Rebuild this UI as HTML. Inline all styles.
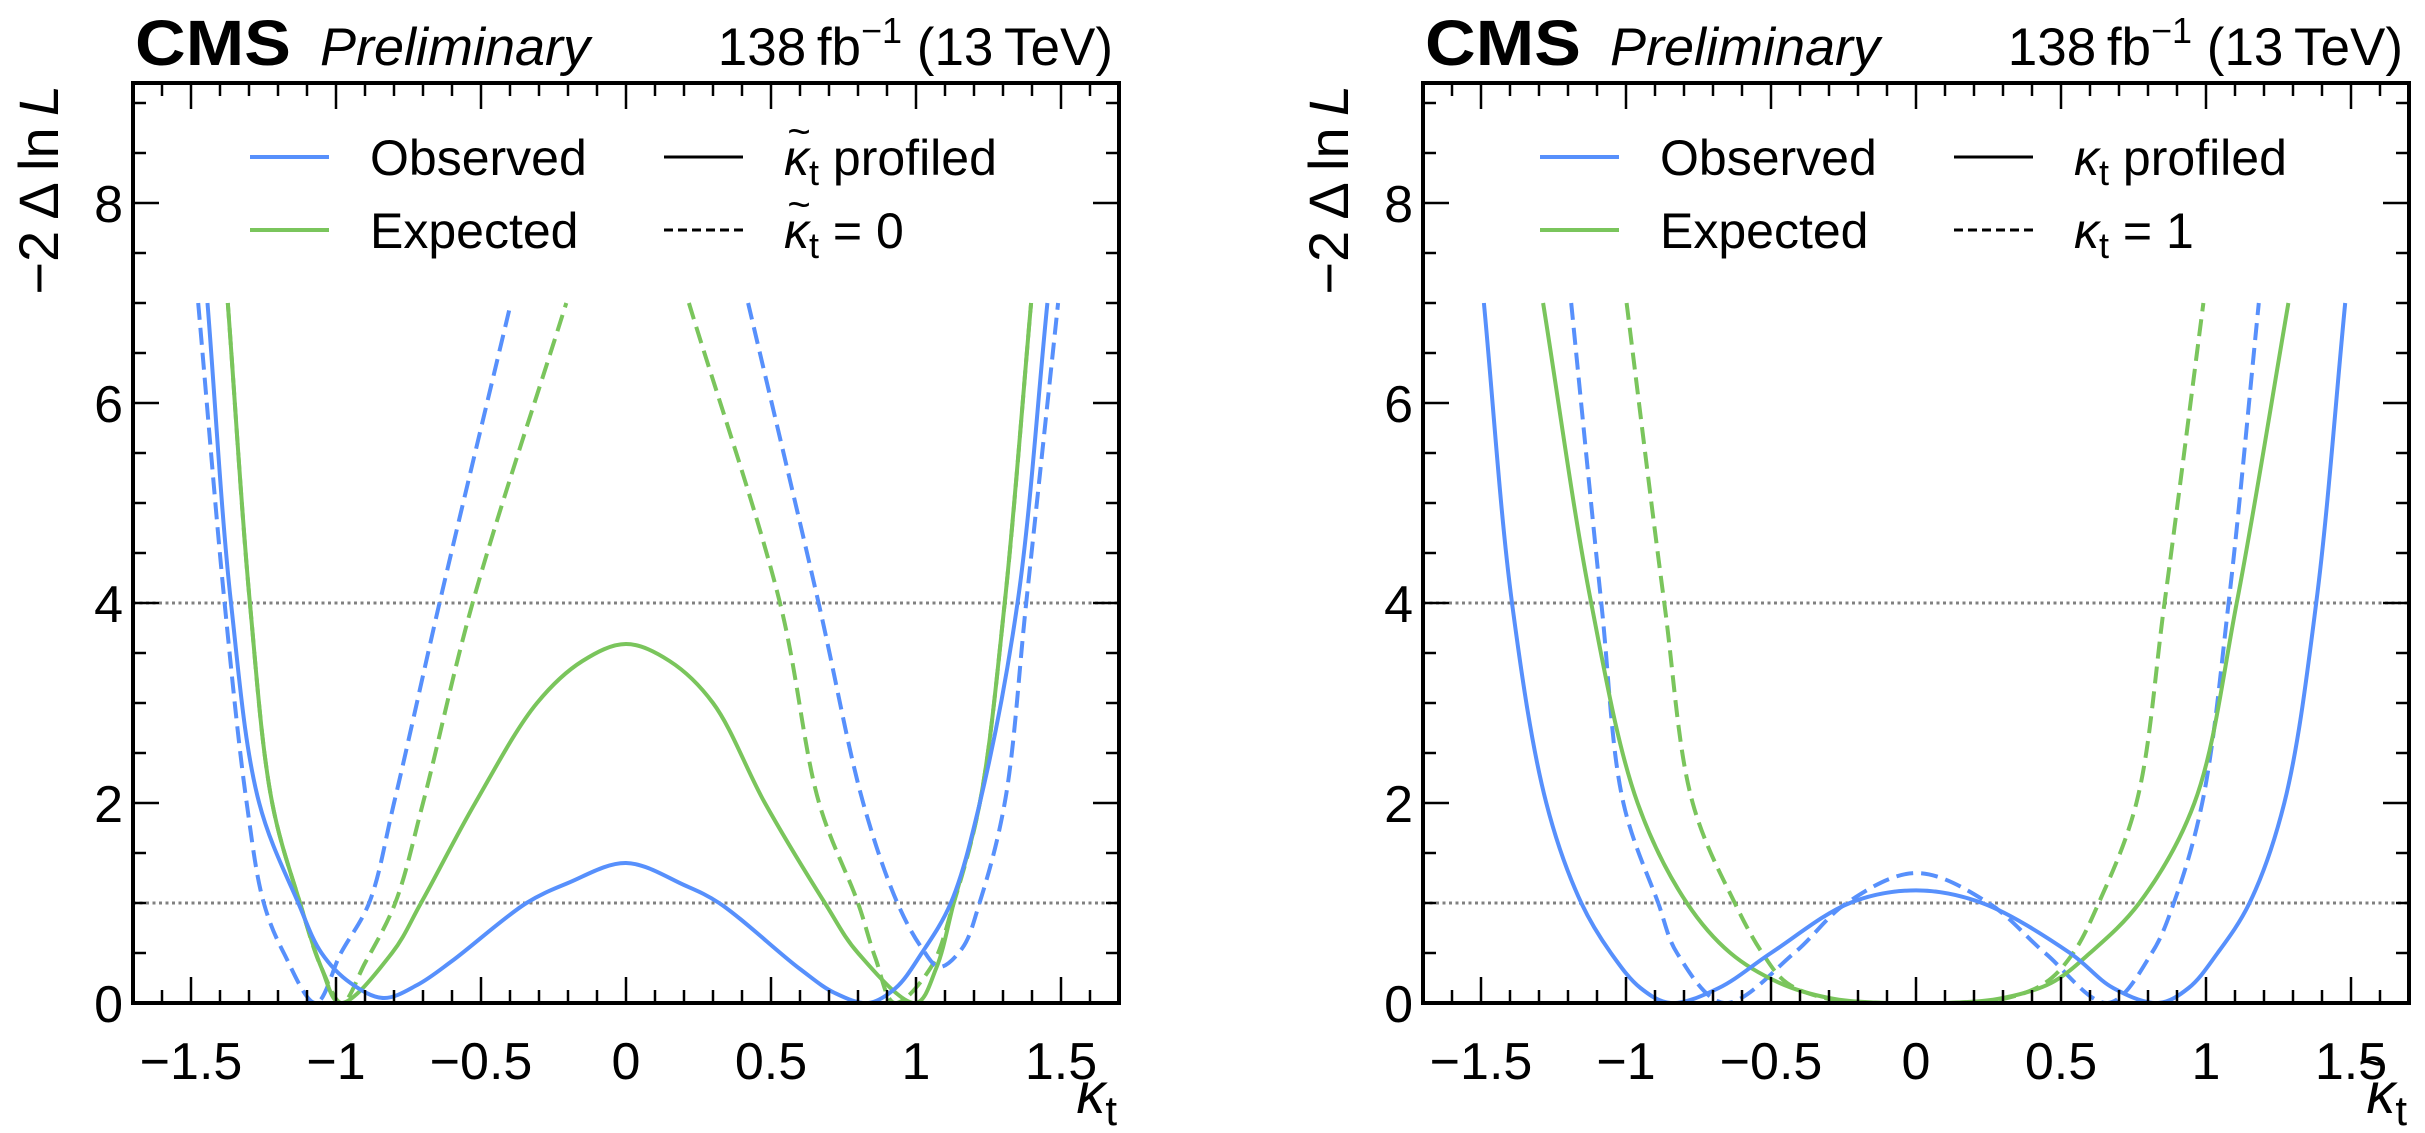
<!DOCTYPE html>
<html><head><meta charset="utf-8"><style>
html,body{margin:0;padding:0;background:#fff;}
svg{display:block;font-family:"Liberation Sans",sans-serif;}
</style></head><body>
<svg id="fig" width="2425" height="1133" viewBox="0 0 2425 1133" xmlns="http://www.w3.org/2000/svg"></svg>
<script>
// ---------- Data ----------
const xTicks = [-1.5, -1, -0.5, 0, 0.5, 1, 1.5];
const xTickLabels = ["\u22121.5", "\u22121", "\u22120.5", "0", "0.5", "1", "1.5"];
const yTicks = [0, 2, 4, 6, 8];
const yTickLabels = ["0", "2", "4", "6", "8"];
const refLevels = [1, 4];

// Left panel (x = kappa_t)
const L_obsProf_x = [-1.443,-1.362,-1.265,-1.13,-1.05,-0.95,-0.836,-0.72,-0.6,-0.343,-0.2,0,0.2,0.321,0.6,0.72,0.836,0.93,1.02,1.12,1.22,1.35,1.453];
const L_obsProf_y = [7,4,2,1,0.5,0.2,0.05,0.18,0.42,1,1.20,1.40,1.18,1,0.34,0.1,0.0,0.15,0.5,1,2,4,7];
const L_expProf_x = [-1.373,-1.297,-1.22,-1.124,-1.05,-0.986,-0.807,-0.707,-0.52,-0.307,-0.15,0,0.15,0.30,0.479,0.686,0.80,1.0,1.07,1.13,1.22,1.306,1.397];
const L_expProf_y = [7,4,2,1,0.35,0,0.5,1,2,3,3.42,3.59,3.42,3,2,1,0.5,0,0.35,1,2,4,7];
const L_obsFix_x = [-1.475,-1.384,-1.308,-1.249,-1.18,-1.07,-0.983,-0.886,-0.80,-0.643,-0.397];
const L_obsFix_y = [7,4,2,1,0.5,0,0.5,1,2,4,7];
const L_obsFix2_x = [0.421,0.664,0.818,0.936,1.02,1.08,1.16,1.219,1.306,1.38,1.49];
const L_obsFix2_y = [7,4,2,1,0.55,0.36,0.55,1,2,4,7];
const L_expFix_x = [-1.373,-1.297,-1.22,-1.124,-1.05,-0.98,-0.90,-0.796,-0.70,-0.529,-0.206];
const L_expFix_y = [7,4,2,1,0.35,0,0.4,1,2,4,7];
const L_expFix2_x = [0.217,0.531,0.666,0.80,0.86,0.926,1.05,1.13,1.22,1.306,1.397];
const L_expFix2_y = [7,4,2,1,0.45,0,0.35,1,2,4,7];

// Right panel (x = kappa-tilde_t)
const R_obsProf_x = [-1.49,-1.393,-1.275,-1.154,-1.052,-0.95,-0.846,-0.68,-0.5,-0.228,0,0.228,0.531,0.68,0.835,0.94,1.04,1.15,1.27,1.38,1.48];
const R_obsProf_y = [7,4,2,1,0.5,0.15,0,0.15,0.5,1,1.126,1,0.5,0.15,0,0.15,0.5,1,2,4,7];
const R_expProf_x = [-1.286,-1.12,-0.96,-0.79,-0.64,-0.47,-0.3,-0.15,0,0.15,0.3,0.466,0.6,0.77,0.96,1.106,1.284];
const R_expProf_y = [7,4,2,1,0.5,0.2,0.05,0.005,0,0.005,0.05,0.2,0.5,1,2,4,7];
const R_obsFix_x = [-1.189,-1.085,-1.009,-0.889,-0.824,-0.662,-0.42,-0.239,0,0.25,0.445,0.662,0.813,0.889,0.987,1.078,1.182];
const R_obsFix_y = [7,4,2,1,0.5,0,0.5,1,1.30,1,0.5,0,0.5,1,2,4,7];
const R_expFix_x = [-0.998,-0.868,-0.77,-0.625,-0.53,-0.445,-0.3,-0.15,0,0.15,0.3,0.445,0.542,0.63,0.76,0.857,0.991];
const R_expFix_y = [7,4,2,1,0.5,0.2,0.04,0.005,0,0.005,0.04,0.2,0.5,1,2,4,7];

const BLUE = "#5790fc", GREEN = "#7ac55c";
const NS = "http://www.w3.org/2000/svg";
const svg = document.getElementById("fig");
function mk(tag, attrs, parent){ const e = document.createElementNS(NS, tag); for (const k in attrs) e.setAttribute(k, attrs[k]); (parent||svg).appendChild(e); return e; }

const W = 986, H = 920, XMIN = -1.7, XMAX = 1.7, YMAX = 9.2;

// centripetal Catmull-Rom through data points (in pixel space)
function pathFrom(xs, ys, sx, sy){
  const P = xs.map((x,i)=>[sx(x), sy(ys[i])]);
  const n = P.length;
  const ext0 = [2*P[0][0]-P[1][0], 2*P[0][1]-P[1][1]];
  const extN = [2*P[n-1][0]-P[n-2][0], 2*P[n-1][1]-P[n-2][1]];
  const Q = [ext0].concat(P, [extN]);
  const dist = (a,b)=>Math.max(1e-6, Math.pow(Math.hypot(b[0]-a[0], b[1]-a[1]), 0.5));
  let d = "M" + P[0][0].toFixed(1) + "," + P[0][1].toFixed(1);
  for (let i=1;i<Q.length-2;i++){
    const p0=Q[i-1], p1=Q[i], p2=Q[i+1], p3=Q[i+2];
    const d1=dist(p0,p1), d2=dist(p1,p2), d3=dist(p2,p3);
    const c1=[], c2=[];
    for (let k=0;k<2;k++){
      const m1 = ((p1[k]-p0[k])/d1 - (p2[k]-p0[k])/(d1+d2) + (p2[k]-p1[k])/d2) * d2;
      const m2 = ((p2[k]-p1[k])/d2 - (p3[k]-p1[k])/(d2+d3) + (p3[k]-p2[k])/d3) * d2;
      c1.push(p1[k] + m1/3); c2.push(p2[k] - m2/3);
    }
    d += " C"+c1[0].toFixed(1)+","+c1[1].toFixed(1)+" "+c2[0].toFixed(1)+","+c2[1].toFixed(1)+" "+p2[0].toFixed(1)+","+p2[1].toFixed(1);
  }
  return d;
}

function kappaText(parent, x, y, size, tilde, anchorEnd, suffix){
  const t = mk("text", {x: x, y: y, "font-size": size}, parent);
  if (anchorEnd) t.setAttribute("text-anchor", "end");
  t.innerHTML = '<tspan font-style="italic">\u03BA</tspan><tspan font-size="' + Math.round(size*0.72) + '" dy="' + Math.round(size*0.2) + '">t</tspan>' + (suffix ? '<tspan dy="' + (-Math.round(size*0.2)) + '">' + suffix + '</tspan>' : '');
  if (tilde){
    const k0 = anchorEnd ? x - (size*0.52 + size*0.72*0.28) - size*0.18 : x;
    const tl = mk("text", {x: k0 + size*0.3, y: y - size*0.6, "font-size": size*0.8, "text-anchor": "middle"}, parent);
    tl.textContent = "~";
  }
  return t;
}

function panel(x0, y0, id, xlabelTilde, legend2Text, legend2Tilde, series){
  const g = mk("g", {});
  
  
  const sx = v => x0 + (v - XMIN) / (XMAX - XMIN) * W;
  const sy = v => y0 + H - v / YMAX * H;
  const clipId = id + "-clip";
  const cp = mk("clipPath", {id: clipId}, g);
  mk("rect", {x: x0, y: y0, width: W, height: H}, cp);

  refLevels.forEach(r => {
    const l = mk("line", {x1: x0, x2: x0+W, y1: sy(r), y2: sy(r), stroke: "#808080", "stroke-width": 3, "stroke-dasharray": "3 3.5"}, g);
    
    
  });

  const cg = mk("g", {"clip-path": "url(#" + clipId + ")"}, g);
  series.forEach(s => {
    const p = mk("path", {d: pathFrom(s.x, s.y, sx, sy), fill: "none", stroke: s.c, "stroke-width": 4, "stroke-linejoin": "round"}, cg);
    if (s.dash) p.setAttribute("stroke-dasharray", "17 8");
    
    
  });

  const tg = mk("g", {stroke: "#000", "stroke-width": 2.5}, g);
  for (let k = -17; k <= 17; k++){
    const v = k / 10, major = (k % 5 === 0), len = major ? 26 : 13;
    mk("line", {x1: sx(v), x2: sx(v), y1: y0+H, y2: y0+H-len}, tg);
    mk("line", {x1: sx(v), x2: sx(v), y1: y0, y2: y0+len}, tg);
  }
  for (let k = 0; k <= 18; k++){
    const v = k / 2, major = (k % 4 === 0), len = major ? 26 : 13;
    mk("line", {x1: x0, x2: x0+len, y1: sy(v), y2: sy(v)}, tg);
    mk("line", {x1: x0+W, x2: x0+W-len, y1: sy(v), y2: sy(v)}, tg);
  }
  const fr = mk("rect", {x: x0, y: y0, width: W, height: H, fill: "none", stroke: "#000", "stroke-width": 4}, g);
  
  

  xTicks.forEach((v, i) => {
    const t = mk("text", {x: sx(v), y: y0+H+76, "font-size": 52, "text-anchor": "middle"}, g);
    t.textContent = xTickLabels[i];
    
    
  });
  yTicks.forEach((v, i) => {
    const t = mk("text", {x: x0-10, y: sy(v)+19, "font-size": 52, "text-anchor": "end"}, g);
    t.textContent = yTickLabels[i];
    
    
  });

  const yt = mk("text", {transform: "translate(" + (x0-75) + "," + (y0+2) + ") rotate(-90)", "font-size": 56, "text-anchor": "end"}, g);
  yt.innerHTML = '\u22122\u2009\u0394\u2009ln\u2009<tspan font-style="italic">L</tspan>';
  
  
  const xg = mk("g", {}, g);
  
  
  kappaText(xg, x0+W-2, y0+H+110, 58, xlabelTilde, true, "");

  const cms = mk("text", {x: x0+2, y: y0-18, "font-size": 64, "font-weight": "bold", textLength: 156, lengthAdjust: "spacingAndGlyphs"}, g);
  cms.textContent = "CMS";
  
  
  const pre = mk("text", {x: x0+187, y: y0-18, "font-size": 53, "font-style": "italic", textLength: 270, lengthAdjust: "spacingAndGlyphs"}, g);
  pre.textContent = "Preliminary";
  
  
  const lumi = mk("text", {x: x0+W-6, y: y0-18, "font-size": 53, "text-anchor": "end"}, g);
  lumi.innerHTML = '138\u2009fb<tspan font-size="36" dy="-22">\u22121</tspan><tspan dy="22"> (13\u2009TeV)</tspan>';
  
  

  const lg = mk("g", {}, g);
  
  
  const rows = [[BLUE, "Observed", 157], [GREEN, "Expected", 230]];
  rows.forEach(r => {
    const e = mk("g", {}, lg);
    
    
    mk("line", {x1: x0+117, x2: x0+196, y1: r[2], y2: r[2], stroke: r[0], "stroke-width": 4}, e);
    const t = mk("text", {x: x0+237, y: r[2]+18, "font-size": 50}, e);
    t.textContent = r[1];
  });
  const e1 = mk("g", {}, lg);
  
  
  mk("line", {x1: x0+531, x2: x0+610, y1: 157, y2: 157, stroke: "#000", "stroke-width": 3}, e1);
  kappaText(e1, x0+651, 175, 50, legend2Tilde, false, " profiled");
  const e2 = mk("g", {}, lg);
  
  
  mk("line", {x1: x0+531, x2: x0+610, y1: 230, y2: 230, stroke: "#000", "stroke-width": 3, "stroke-dasharray": "9 5"}, e2);
  kappaText(e2, x0+651, 248, 50, legend2Tilde, false, " = " + legend2Text);
}

panel(133, 83, "left", false, "0", true, [
  {x: L_expFix_x, y: L_expFix_y, c: GREEN, dash: true, name: "expected-fixed-left-branch"},
  {x: L_expFix2_x, y: L_expFix2_y, c: GREEN, dash: true, name: "expected-fixed-right-branch"},
  {x: L_obsFix_x, y: L_obsFix_y, c: BLUE, dash: true, name: "observed-fixed-left-branch"},
  {x: L_obsFix2_x, y: L_obsFix2_y, c: BLUE, dash: true, name: "observed-fixed-right-branch"},
  {x: L_expProf_x, y: L_expProf_y, c: GREEN, dash: false, name: "expected-profiled"},
  {x: L_obsProf_x, y: L_obsProf_y, c: BLUE, dash: false, name: "observed-profiled"}
]);
panel(1423, 83, "right", true, "1", false, [
  {x: R_expFix_x, y: R_expFix_y, c: GREEN, dash: true, name: "expected-fixed"},
  {x: R_obsFix_x, y: R_obsFix_y, c: BLUE, dash: true, name: "observed-fixed"},
  {x: R_expProf_x, y: R_expProf_y, c: GREEN, dash: false, name: "expected-profiled"},
  {x: R_obsProf_x, y: R_obsProf_y, c: BLUE, dash: false, name: "observed-profiled"}
]);
</script>
</body></html>
